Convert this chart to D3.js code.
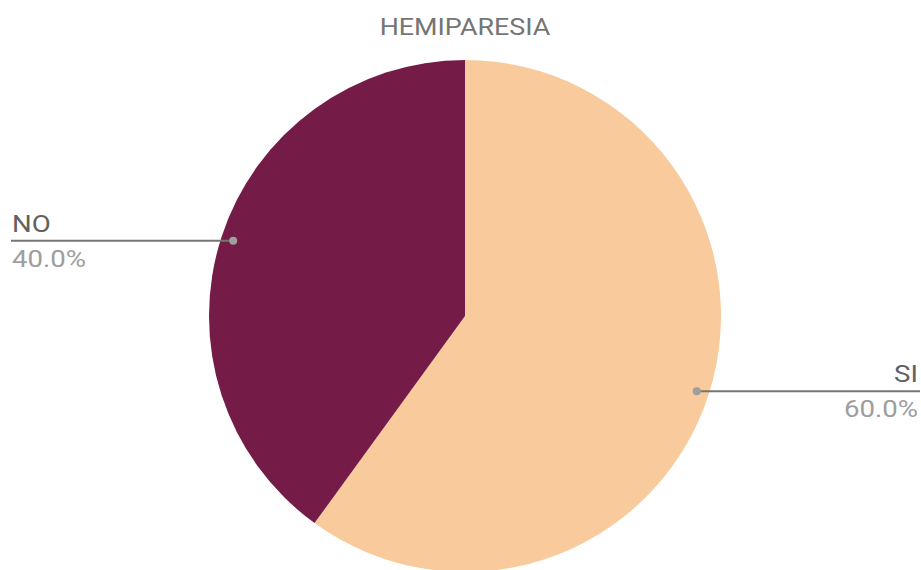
<!DOCTYPE html>
<html><head><meta charset="utf-8">
<script src="https://cdn.jsdelivr.net/npm/d3@7"></script>
<style>body{margin:0;background:#fff}svg{display:block}text{font-family:Roboto,sans-serif}</style>
</head><body>
<script>
const title = "HEMIPARESIA";
const categories = ["SI", "NO"];
const values = [60, 40];
const colors = ["#f8ca9c", "#741b47"];

const W = 921, H = 570;
const svg = d3.select("body").append("svg").attr("width", W).attr("height", H);
const cx = 465, cy = 316, R = 256;

function stretched(x, y, sx, anchor) {
  return svg.append("g").attr("transform", `translate(${x},${y}) scale(${sx},1)`)
    .append("text").attr("text-anchor", anchor);
}

stretched(cx, 35, 1.12, "middle").attr("fill", "#757575").attr("font-size", 24).text(title);

const pie = d3.pie().sort(null).value(d => d.v);
const arcs = pie(categories.map((c, i) => ({c, v: values[i], col: colors[i]})));
const arc = d3.arc().innerRadius(0).outerRadius(R);
const g = svg.append("g").attr("transform", `translate(${cx},${cy})`);
g.selectAll("path").data(arcs).join("path").attr("d", arc).attr("fill", d => d.data.col);

const total = d3.sum(values);
const lblArc = d3.arc().innerRadius(R * 0.952).outerRadius(R * 0.952);
arcs.forEach(d => {
  const [px, py] = lblArc.centroid(d);
  const right = px > 0;
  const x0 = cx + px, y0 = cy + py;
  const x1 = right ? W - 1 : 11;
  const tx = right ? W - 3 : 12;
  svg.append("line").attr("x1", x0).attr("y1", y0).attr("x2", x1).attr("y2", y0)
    .attr("stroke", "#757575").attr("stroke-width", 2);
  svg.append("circle").attr("cx", x0).attr("cy", y0).attr("r", 4).attr("fill", "#9e9e9e");
  const anchor = right ? "end" : "start";
  stretched(tx, y0 - 9, 1.15, anchor).attr("fill", "#616161").attr("font-size", 24).text(d.data.c);
  stretched(tx, y0 + 26, 1.15, anchor).attr("fill", "#9e9e9e").attr("font-size", 24)
    .text((d.data.v / total * 100).toFixed(1) + "%");
});
</script>
</body></html>
